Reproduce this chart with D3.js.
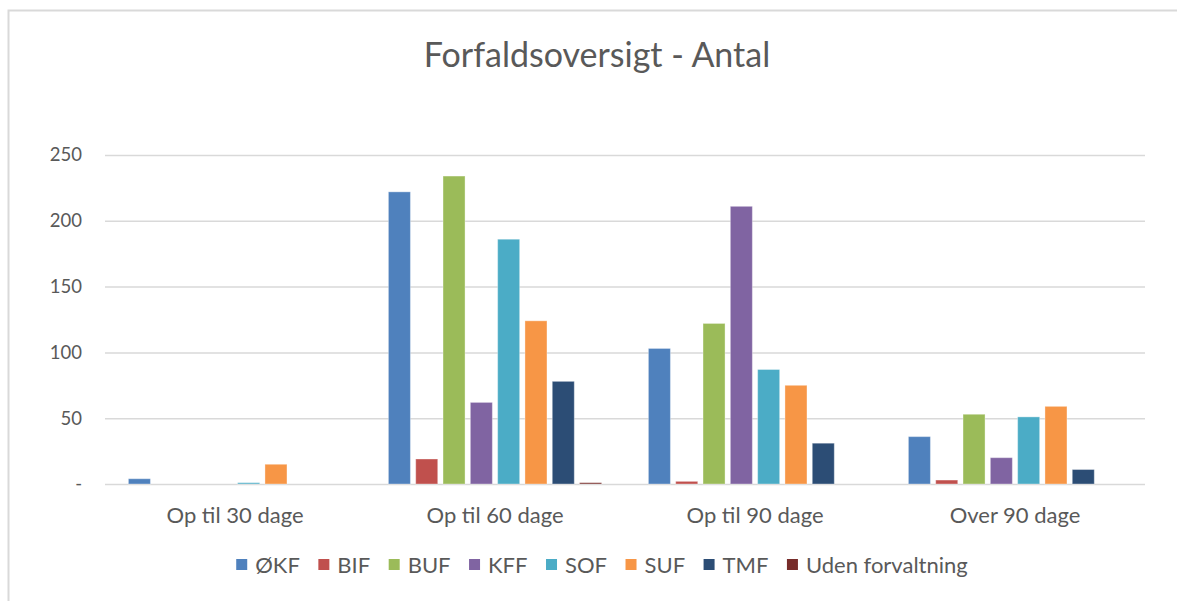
<!DOCTYPE html>
<html><head><meta charset="utf-8">
<script src="https://cdn.jsdelivr.net/npm/d3@7"></script>
<style>body{margin:0;background:#fff;} svg{display:block;}</style>
</head><body>
<svg id="chart" width="1177" height="601"></svg>
<script>
const categories = ["Op til 30 dage", "Op til 60 dage", "Op til 90 dage", "Over 90 dage"];
const seriesNames = ["ØKF", "BIF", "BUF", "KFF", "SOF", "SUF", "TMF", "Uden forvaltning"];
const seriesColors = ["#4f81bd", "#c0504d", "#9bbb59", "#8064a2", "#4bacc6", "#f79646", "#2c4d75", "#772c2a"];
// values per series, one entry per category
const vOKF  = [4, 222, 103, 36];
const vBIF  = [0, 19, 2, 3];
const vBUF  = [0, 234, 122, 53];
const vKFF  = [0, 62, 211, 20];
const vSOF  = [1, 186, 87, 51];
const vSUF  = [15, 124, 75, 59];
const vTMF  = [0, 78, 31, 11];
const vUden = [0, 1, 0, 0];
const yTicks = [0, 50, 100, 150, 200, 250];
const title = "Forfaldsoversigt - Antal";

const allValues = [vOKF, vBIF, vBUF, vKFF, vSOF, vSUF, vTMF, vUden];
const FONT = "Lato, 'Open Sans', sans-serif";
const svg = d3.select("#chart");

// outer border
svg.append("rect").attr("x", 8.5).attr("y", 10.5).attr("width", 1200).attr("height", 700)
  .attr("fill", "none").attr("stroke", "#d9d9d9").attr("stroke-width", 2);

const pLeft = 105, pRight = 1145, pTop = 155, pBottom = 484;
const x0 = d3.scaleBand().domain(categories).range([pLeft, pRight]).padding(0);
const x1 = d3.scaleBand().domain(seriesNames).range([0, x0.bandwidth()]).paddingInner(0.194).paddingOuter(0.857);
const y = d3.scaleLinear().domain([0, 250]).range([pBottom, pTop]);

// gridlines
const yAxis = d3.axisLeft(y).tickValues(yTicks).tickSize(-(pRight - pLeft)).tickFormat(d => d === 0 ? "-" : d);
const gy = svg.append("g").attr("transform", `translate(${pLeft},0)`).call(yAxis);
gy.select(".domain").remove();
gy.selectAll(".tick line").attr("stroke", "#d9d9d9").attr("stroke-width", 1.5);
gy.selectAll(".tick text").attr("x", -23).attr("fill", "#595959")
  .style("font-family", FONT).style("font-size", "18.5px");

// bars
const groups = svg.append("g").selectAll("g").data(categories).join("g")
  .attr("transform", d => `translate(${x0(d)},0)`);
groups.selectAll("rect").data((c, ci) => seriesNames.map((s, si) => ({s, si, v: allValues[si][ci]})))
  .join("rect")
  .attr("x", d => x1(d.s)).attr("width", x1.bandwidth())
  .attr("y", d => y(d.v)).attr("height", d => y(0) - y(d.v))
  .attr("fill", d => seriesColors[d.si])
  .attr("stroke", "#ffffff").attr("stroke-opacity", 0.35).attr("stroke-width", 1);

// x axis labels
const xAxis = d3.axisBottom(x0).tickSize(0).tickPadding(23);
const gx = svg.append("g").attr("transform", `translate(0,${pBottom})`).call(xAxis);
gx.select(".domain").remove();
gx.selectAll(".tick text").attr("fill", "#595959").style("font-family", FONT).style("font-size", "22px");

// title
svg.append("text").attr("x", 597).attr("y", 67).attr("text-anchor", "middle")
  .attr("fill", "#595959").style("font-family", FONT).style("font-size", "34px").text(title);

// legend
const lg = svg.append("g");
const gap = 18.5;
let cx = 0;
seriesNames.forEach((s, i) => {
  const g = lg.append("g");
  g.append("rect").attr("x", 0).attr("y", -6).attr("width", 11).attr("height", 11).attr("fill", seriesColors[i]);
  const t = g.append("text").attr("x", 19).attr("y", 0).attr("dy", "0.35em").attr("fill", "#595959")
    .style("font-family", FONT).style("font-size", "22px").text(s);
  g.attr("transform", `translate(${cx},0)`);
  cx += 19 + t.node().getComputedTextLength() + gap;
});
const totalW = cx - gap;
lg.attr("transform", `translate(${602 - totalW / 2},565)`);
</script>
</body></html>
